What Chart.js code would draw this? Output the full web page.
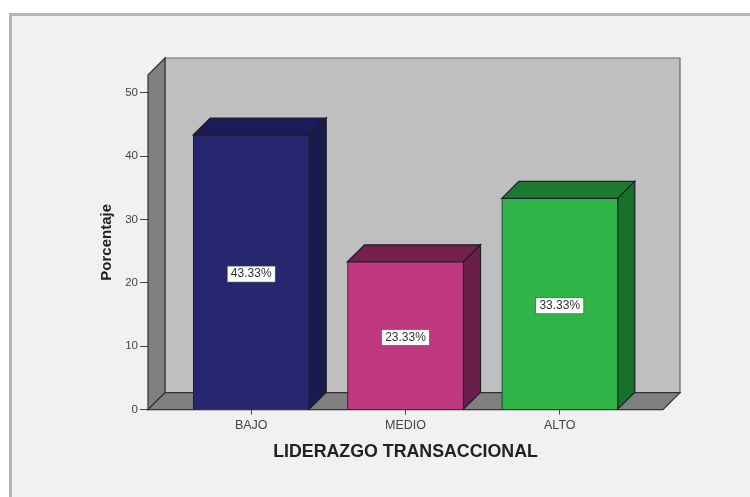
<!DOCTYPE html>
<html><head><meta charset="utf-8">
<style>html,body{margin:0;padding:0;background:#fff}canvas{display:block}
#box{position:absolute;left:9px;top:13px;width:741px;height:484px;box-sizing:border-box;border:3px solid #b4b4b4;border-right:none;border-bottom:none;background:#f1f1f1}
#c{position:absolute;left:0;top:0}</style>
<script src="https://cdn.jsdelivr.net/npm/chart.js@4"></script>
</head><body><div id="box"></div><canvas id="c" width="750" height="497"></canvas>
<script>
const categories=['BAJO','MEDIO','ALTO'];
const percentages=[43.33,23.33,33.33];
const yTicks=[0,10,20,30,40,50];
const faceColors=['#27276f','#c0387f','#2fb548'];
const topColors=['#1d1b59','#74204f','#1c7a30'];
const sideColors=['#1a1a4c','#6a1f4a','#187029'];
const DEPTH=17;
function poly(ctx,pts,fill,stroke){ctx.beginPath();pts.forEach((p,i)=>i?ctx.lineTo(p[0],p[1]):ctx.moveTo(p[0],p[1]));ctx.closePath();ctx.fillStyle=fill;ctx.fill();ctx.strokeStyle=stroke;ctx.lineWidth=1.2;ctx.stroke();}
const box3d={id:'box3d',
 beforeDatasetsDraw(ch){const {ctx,chartArea:a}=ch,l=a.left,r=a.right,t=a.top,b=a.bottom,d=DEPTH;
  ctx.save();
  poly(ctx,[[l+d,t-d],[r+d,t-d],[r+d,b-d],[l+d,b-d]],'#bfbfbf','#666');
  poly(ctx,[[l,t],[l+d,t-d],[l+d,b-d],[l,b]],'#808080','#333');
  poly(ctx,[[l,b],[l+d,b-d],[r+d,b-d],[r,b]],'#808080','#333');
  ctx.restore();
  const m=ch.getDatasetMeta(0);ctx.save();
  m.data.forEach((e,i)=>{const x0=e.x-e.width/2,x1=e.x+e.width/2,y=e.y,base=e.base;
   poly(ctx,[[x0,y],[x0+d,y-d],[x1+d,y-d],[x1,y]],topColors[i],'#1e1e2a');
   poly(ctx,[[x1,y],[x1+d,y-d],[x1+d,base-d],[x1,base]],sideColors[i],'#1e1e2a');
  });ctx.restore();},
 afterDatasetsDraw(ch){const {ctx}=ch,m=ch.getDatasetMeta(0);ctx.save();
  ctx.font='12px "Liberation Sans"';ctx.textAlign='center';ctx.textBaseline='middle';
  m.data.forEach((e,i)=>{const y=(e.y+e.base)/2+2,t=percentages[i].toFixed(2)+'%';
   ctx.fillStyle='#fff';ctx.fillRect(e.x-24,y-8,48,16);
   ctx.strokeStyle='#2a5a3a';ctx.lineWidth=.6;ctx.strokeRect(e.x-24,y-8,48,16);
   ctx.fillStyle='#333';ctx.fillText(t,e.x,y);});
  ctx.restore();}};
new Chart(document.getElementById('c'),{type:'bar',
 data:{datasets:[{data:categories.map((c,i)=>({x:i,y:percentages[i]})),backgroundColor:faceColors,borderColor:'#1e1e2a',borderWidth:1,barThickness:116}]},
 plugins:[box3d],
 options:{responsive:false,animation:false,
  layout:{padding:{left:98,right:87,top:75,bottom:0}},
  plugins:{legend:{display:false},tooltip:{enabled:false}},
  scales:{
   x:{type:'linear',offset:false,min:-0.669,max:2.669,
    afterBuildTicks(s){s.ticks=categories.map((c,i)=>({value:i}));},
    grid:{display:true,offset:false,drawOnChartArea:false,drawTicks:true,tickLength:5,tickColor:'#444'},
    border:{display:false},
    ticks:{autoSkip:false,maxRotation:0,padding:3,color:'#444',font:{size:12.5,family:'Liberation Sans'},callback:v=>categories[v]},
    title:{display:true,text:'LIDERAZGO TRANSACCIONAL',color:'#222',font:{size:17.8,weight:'bold',family:'Liberation Sans'},padding:{top:6,bottom:34}}},
   y:{min:0,max:52.8,
    afterBuildTicks(s){s.ticks=yTicks.map(v=>({value:v}));},
    grid:{display:true,drawOnChartArea:false,tickLength:8,tickColor:'#444'},
    border:{display:false},
    ticks:{padding:2,color:'#444',font:{size:11.5,family:'Liberation Sans'}},
    title:{display:true,text:'Porcentaje',color:'#222',font:{size:15,weight:'bold',family:'Liberation Sans'},padding:{top:0,bottom:0}},
    afterFit(s){s.width=50;}}
  }}});
</script></body></html>
